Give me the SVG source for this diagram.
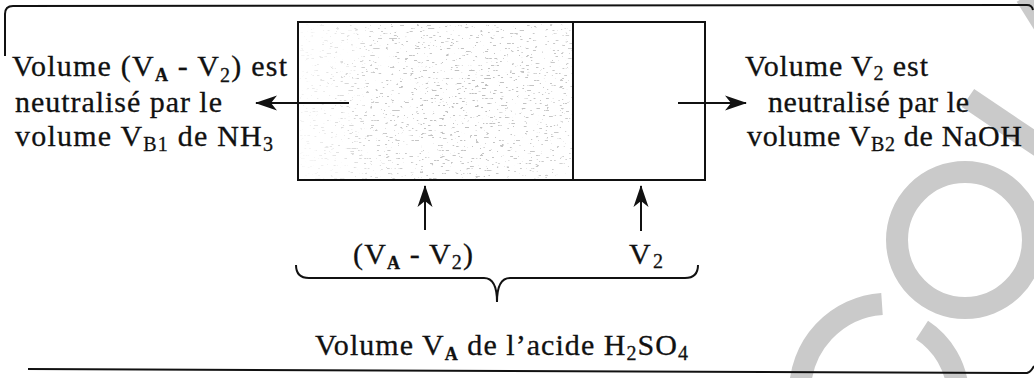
<svg xmlns="http://www.w3.org/2000/svg" width="1034" height="378" viewBox="0 0 1034 378">
<style>
.t{font-family:"Liberation Serif","Times New Roman",serif;font-size:30px;fill:#111;stroke:#111;stroke-width:0.3}
.sb{font-size:18px;font-weight:bold}
.s{font-size:20px}
.ln{stroke:#111;stroke-width:2;fill:none}
.wm{stroke:#cacaca;stroke-width:22;fill:none}
</style>
<defs>
<marker id="ah" viewBox="-24 -9 26 18" refX="0" refY="0" markerWidth="26" markerHeight="18" markerUnits="userSpaceOnUse" orient="auto">
<path d="M1,0 L-21,-7.5 L-15,0 L-21,7.5 Z" fill="#111"/>
</marker>
<radialGradient id="dens" cx="470" cy="95" r="180" gradientUnits="userSpaceOnUse">
<stop offset="0" stop-color="#fff" stop-opacity="1"/>
<stop offset="0.55" stop-color="#fff" stop-opacity="0.8"/>
<stop offset="1" stop-color="#fff" stop-opacity="0.1"/>
</radialGradient>
<filter id="spk" x="300" y="24" width="272" height="155" filterUnits="userSpaceOnUse">
<feTurbulence type="fractalNoise" baseFrequency="0.2 0.6" numOctaves="2" seed="11" result="n"/>
<feColorMatrix in="n" type="matrix" values="0 0 0 0 0.5  0 0 0 0 0.5  0 0 0 0 0.5  -16 0 0 0 5.3" result="sp"/>
<feComposite in="sp" in2="SourceGraphic" operator="in"/>
</filter>
</defs>
<rect width="1034" height="378" fill="#fff"/>
<g id="watermark">
<circle class="wm" cx="965" cy="240" r="68"/>
<path class="wm" d="M800,392 A88,88 0 0 1 882,304"/>
<path class="wm" d="M922,330 A80,80 0 0 1 958,392"/>
<path class="wm" d="M968,98 L1045,150"/>
<path class="wm" d="M1026,-4 L1046,28"/>
</g>
<g id="frame">
<path class="ln" d="M5,56 L5,14 Q5,6 13,6 L1027,5 Q1032,5 1033,10" stroke-width="1.5"/>
<path class="ln" d="M28,369 L1027,373 Q1031,372 1034,366" stroke-width="1.5"/>
</g>
<g id="acid-volume">
<rect x="300" y="24" width="272" height="155" fill="url(#dens)" filter="url(#spk)"/>
<rect class="ln" x="298" y="22" width="407" height="158"/>
<line class="ln" x1="573" y1="22" x2="573" y2="180"/>
</g>
<g id="connectors">
<line class="ln" x1="349" y1="103" x2="256" y2="103" marker-end="url(#ah)"/>
<line class="ln" x1="678" y1="103" x2="746" y2="103" marker-end="url(#ah)"/>
<line class="ln" x1="425" y1="230" x2="425" y2="186" marker-end="url(#ah)"/>
<line class="ln" x1="641" y1="231" x2="641" y2="186" marker-end="url(#ah)"/>
<path class="ln" stroke-width="1.6" d="M296,265 Q296,278 309,278 L484,278 Q497,278 497,302 Q497,278 510,278 L685,278 Q698,278 698,265"/>
</g>
<g id="label-left">
<text class="t" x="12" y="76" textLength="275">Volume (V<tspan class="sb" dy="5">A</tspan><tspan dy="-5"> - V</tspan><tspan class="s" dy="6">2</tspan><tspan dy="-6">) est</tspan></text>
<text class="t" x="15" y="112" textLength="207">neutralisé par le</text>
<text class="t" x="15" y="146" textLength="258">volume V<tspan class="s" dy="5">B1</tspan><tspan dy="-5"> de NH</tspan><tspan class="s" dy="5">3</tspan></text>
</g>
<g id="label-right">
<text class="t" x="745" y="76" textLength="183">Volume V<tspan class="s" dy="4">2</tspan><tspan dy="-4"> est</tspan></text>
<text class="t" x="768" y="112" textLength="201">neutralisé par le</text>
<text class="t" x="747" y="146" textLength="275">volume V<tspan class="s" dy="5">B2</tspan><tspan dy="-5"> de NaOH</tspan></text>
</g>
<g id="label-va-v2">
<text class="t" x="353" y="264" textLength="120">(V<tspan class="sb" dy="5">A</tspan><tspan dy="-5"> - V</tspan><tspan class="s" dy="5">2</tspan><tspan dy="-5">)</tspan></text>
</g>
<g id="label-v2">
<text class="t" x="629" y="264" textLength="34">V<tspan class="s" dy="4">2</tspan></text>
</g>
<g id="label-total">
<text class="t" x="315" y="355" textLength="373">Volume V<tspan class="sb" dy="5">A</tspan><tspan dy="-5"> de l’acide H</tspan><tspan class="s" dy="5">2</tspan><tspan dy="-5">SO</tspan><tspan class="s" dy="5">4</tspan></text>
</g>
</svg>
